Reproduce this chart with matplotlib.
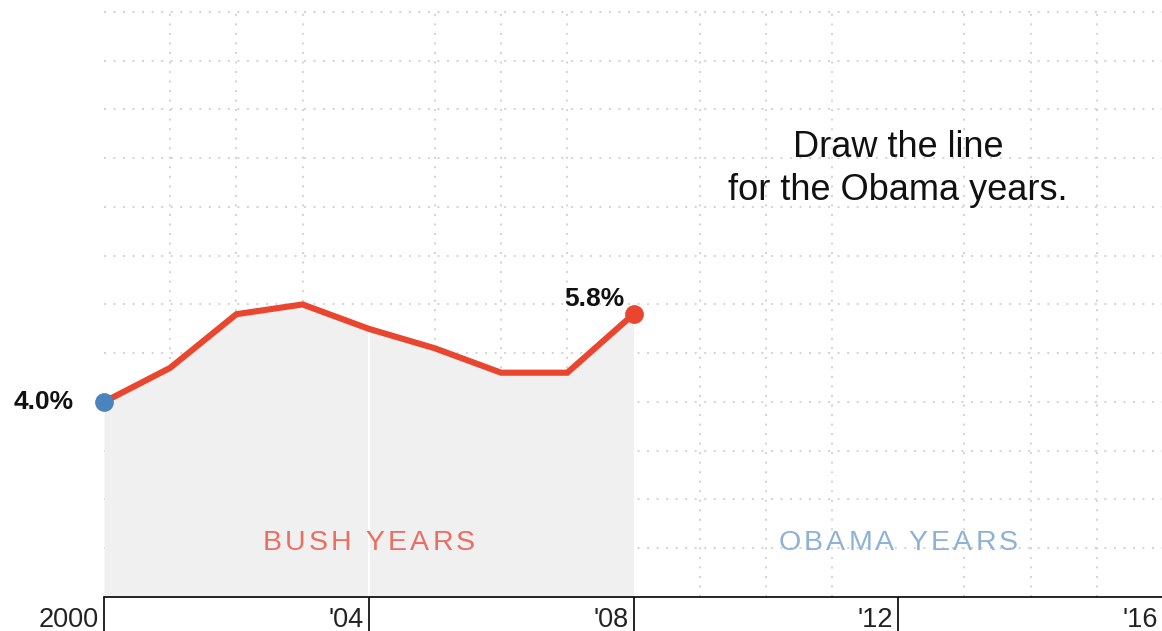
import matplotlib
matplotlib.use("Agg")
import matplotlib.pyplot as plt
import numpy as np

# ---- data ----
years = [2000, 2001, 2002, 2003, 2004, 2005, 2006, 2007, 2008]
rate = [4.0, 4.7, 5.8, 6.0, 5.5, 5.1, 4.6, 4.6, 5.8]
tick_years = [2000, 2004, 2008, 2012, 2016]
tick_labels = ["2000", "'04", "'08", "'12", "'16"]
grid_years = list(range(2000, 2017))
grid_rates = list(range(1, 13))
period_labels = ["BUSH YEARS", "OBAMA YEARS"]
period_centers = [2004, 2012]

RED = "#e9452f"
BLUE = "#4b84bc"
FILL = "#f0f0f0"
BUSH_C = "#ec6d61"
OBAMA_C = "#8db2d6"
FONT = "Liberation Sans"

plt.rcParams["font.family"] = [FONT, "DejaVu Sans"]

fig = plt.figure(figsize=(11.62, 6.31), dpi=100)
ax = fig.add_axes([104 / 1162, 34 / 631, 1059 / 1162, 590 / 631])
ax.set_xlim(2000, 2016)
ax.set_ylim(0, 12.1)

# grid (dotted)
ax.set_xticks(grid_years, minor=True)
ax.set_yticks(grid_rates)
ax.set_yticklabels([])
ax.tick_params(axis="y", length=0)
ax.tick_params(axis="x", which="minor", length=0)
ax.grid(True, which="minor", axis="x", color="#d2d2d2", linewidth=1.4,
        linestyle=(0, (1, 3.9)))
ax.grid(True, which="major", axis="y", color="#d2d2d2", linewidth=1.4,
        linestyle=(0, (1, 3.9)))
ax.set_axisbelow(True)
for gl in ax.get_xgridlines() + ax.get_ygridlines():
    gl.set_clip_on(False)

# major ticks on x
ax.set_xticks(tick_years)
ax.set_xticklabels([])
ax.tick_params(axis="x", which="major", direction="out", length=25,
               width=1.2, color="black")
for x, lab in zip(tick_years, tick_labels):
    ax.annotate(lab, xy=(x, 0), xycoords=("data", "axes fraction"),
                xytext=(-3.5, -21.5), textcoords="offset points",
                ha="right", va="baseline", fontsize=19.5, color="#222222",
                annotation_clip=False)

for s in ["left", "right", "top"]:
    ax.spines[s].set_visible(False)
ax.spines["bottom"].set_color("black")
ax.spines["bottom"].set_linewidth(1.2)

# fill + white separator
ax.fill_between(years, rate, 0, color=FILL, linewidth=0, zorder=1)
ax.vlines(years[4], 0, rate[4], color="white", linewidth=1.5, zorder=1.5)

# line + dots
ax.plot(years, rate, color=RED, linewidth=4.4, solid_joinstyle="miter",
        solid_capstyle="butt", zorder=3)
ax.plot(years[0], rate[0], "o", color=BLUE, markersize=13.5, zorder=4,
        markeredgewidth=0, clip_on=False)
ax.plot(years[-1], rate[-1], "o", color=RED, markersize=13.5, zorder=4,
        markeredgewidth=0, clip_on=False)

ax.annotate(f"{rate[0]:.1f}%", xy=(years[0], rate[0]), xytext=(-21.5, 0),
            textcoords="offset points", ha="right", va="center",
            fontsize=19, fontweight="bold", color="#111111",
            annotation_clip=False)
ax.annotate(f"{rate[-1]:.1f}%", xy=(years[-1], rate[-1]), xytext=(-6.5, 6),
            textcoords="offset points", ha="right", va="baseline",
            fontsize=19, fontweight="bold", color="#111111")

# prompt text
ax.text(2012, 9.03, "Draw the line", ha="center", va="baseline",
        fontsize=26, color="#111111")
ax.text(2012, 8.14, "for the Obama years.", ha="center", va="baseline",
        fontsize=26, color="#111111")

# tracked labels
renderer = fig.canvas.get_renderer()


def tracked(xc, y, s, color, size, track_px):
    widths = []
    for ch in s:
        if ch == " ":
            t2 = ax.text(0, 0, "n n", fontsize=size)
            t3 = ax.text(0, 0, "nn", fontsize=size)
            w = (t2.get_window_extent(renderer).width
                 - t3.get_window_extent(renderer).width)
            t2.remove()
            t3.remove()
        else:
            t = ax.text(0, 0, ch, fontsize=size)
            w = t.get_window_extent(renderer).width
            t.remove()
        widths.append(w)
    total = sum(widths) + track_px * (len(s) - 1)
    xpix, ypix = ax.transData.transform((xc, y))
    inv = ax.transData.inverted()
    cur = xpix - total / 2
    for ch, w in zip(s, widths):
        if ch != " ":
            dx, _ = inv.transform((cur, ypix))
            ax.text(dx, y, ch, ha="left", va="baseline", fontsize=size,
                    color=color)
        cur += w + track_px


tracked(period_centers[0], 0.96, period_labels[0], BUSH_C, 20.5, 3.2)
tracked(period_centers[1], 0.96, period_labels[1], OBAMA_C, 20.5, 3.2)

fig.savefig("out.png", dpi=100)
